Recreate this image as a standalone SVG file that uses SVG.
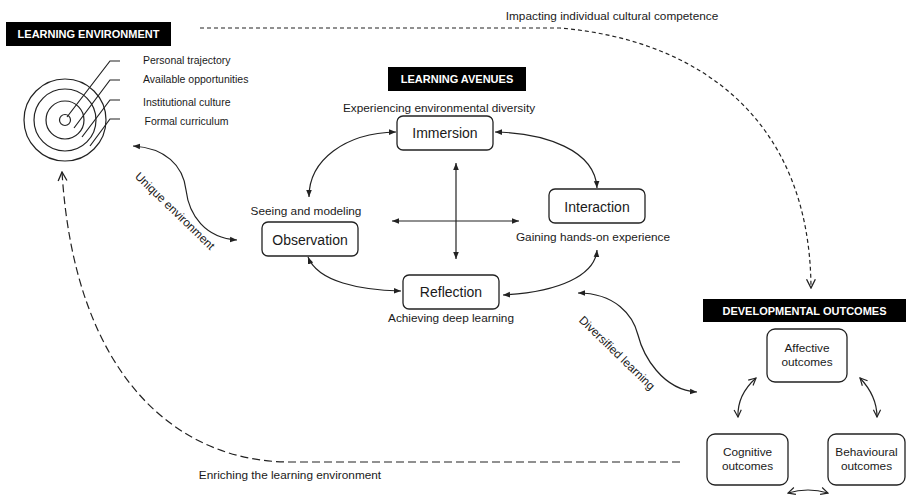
<svg xmlns="http://www.w3.org/2000/svg" width="906" height="496" viewBox="0 0 906 496">
<style>
text{font-family:"Liberation Sans",Arial,sans-serif;fill:#1a1a1a}
.title{font-weight:bold;font-size:11px;fill:#fff}
.tbox{fill:#000}
.node{fill:#fff;stroke:#222;stroke-width:1.3}
.nt{font-size:14px;text-anchor:middle}
.ot{font-size:11.8px;text-anchor:middle}
.lab{font-size:11.8px;text-anchor:middle}
.sm{font-size:10.5px}
.ln{fill:none;stroke:#222;stroke-width:1.2}
.bi{fill:none;stroke:#222;stroke-width:1.2;marker-start:url(#fa);marker-end:url(#fa)}
.obi{fill:none;stroke:#222;stroke-width:1.2;marker-start:url(#oa);marker-end:url(#oa)}
.d1{fill:none;stroke:#222;stroke-width:1.2;stroke-dasharray:4 3;marker-end:url(#va)}
.d2{fill:none;stroke:#222;stroke-width:1.2;stroke-dasharray:8 4;marker-end:url(#va)}
</style>
<defs>
<marker id="fa" viewBox="0 0 10 10" refX="10" refY="5" markerWidth="7" markerHeight="7" markerUnits="userSpaceOnUse" orient="auto-start-reverse">
<path d="M0,1 L10,5 L0,9 z" fill="#222"/>
</marker>
<marker id="oa" viewBox="0 0 10 10" refX="9" refY="5" markerWidth="9" markerHeight="9" markerUnits="userSpaceOnUse" orient="auto-start-reverse">
<path d="M1,1 L9,5 L1,9" fill="none" stroke="#222" stroke-width="1.3"/>
</marker>
<marker id="va" viewBox="0 0 10 10" refX="9" refY="5" markerWidth="11" markerHeight="11" markerUnits="userSpaceOnUse" orient="auto">
<path d="M1,1 L9,5 L1,9" fill="none" stroke="#222" stroke-width="1.2"/>
</marker>
</defs>

<g id="learning-environment">
<rect class="tbox" x="6" y="22" width="165" height="24"/>
<text class="title" x="88.5" y="38" text-anchor="middle">LEARNING ENVIRONMENT</text>
<circle cx="65" cy="120" r="41" class="ln"/>
<circle cx="65" cy="120" r="31" class="ln"/>
<circle cx="65" cy="120" r="19" class="ln"/>
<circle cx="65" cy="120" r="5.5" class="ln"/>
<path class="ln" d="M67,117 L110,61 L120,61"/>
<path class="ln" d="M74,128 L110,80 L120,80"/>
<path class="ln" d="M82,137 L110,100 L120,100"/>
<path class="ln" d="M90,146 L110,119 L120,119"/>
<text class="sm" x="143" y="64">Personal trajectory</text>
<text class="sm" x="143" y="83">Available opportunities</text>
<text class="sm" x="143" y="106">Institutional culture</text>
<text class="sm" x="144.5" y="125">Formal curriculum</text>
</g>

<g id="learning-avenues">
<rect class="tbox" x="388" y="67" width="138" height="24"/>
<text class="title" x="457" y="83" text-anchor="middle">LEARNING AVENUES</text>
</g>

<g id="immersion">
<rect class="node" x="397" y="116" width="96" height="34" rx="6"/>
<text class="nt" x="445" y="138">Immersion</text>
<text class="lab" x="439" y="112">Experiencing environmental diversity</text>
</g>
<g id="interaction">
<rect class="node" x="549" y="189" width="96" height="34" rx="6"/>
<text class="nt" x="597" y="212">Interaction</text>
<text class="lab" x="593" y="241">Gaining hands-on experience</text>
</g>
<g id="observation">
<rect class="node" x="262" y="222" width="96" height="34" rx="6"/>
<text class="nt" x="310" y="245">Observation</text>
<text class="lab" x="306" y="215">Seeing and modeling</text>
</g>
<g id="reflection">
<rect class="node" x="403" y="275" width="96" height="34" rx="6"/>
<text class="nt" x="451" y="297">Reflection</text>
<text class="lab" x="451" y="322">Achieving deep learning</text>
</g>

<g id="developmental-outcomes">
<rect class="tbox" x="703" y="299" width="203" height="23"/>
<text class="title" x="804.5" y="315" text-anchor="middle">DEVELOPMENTAL OUTCOMES</text>
</g>
<g id="affective">
<rect class="node" x="767" y="329" width="80" height="53" rx="8"/>
<text class="ot" x="807" y="352">Affective</text>
<text class="ot" x="807" y="366">outcomes</text>
</g>
<g id="cognitive">
<rect class="node" x="707" y="434" width="81" height="51" rx="8"/>
<text class="ot" x="747.5" y="456">Cognitive</text>
<text class="ot" x="747.5" y="470">outcomes</text>
</g>
<g id="behavioural">
<rect class="node" x="828" y="434" width="77" height="51" rx="8"/>
<text class="ot" x="866.5" y="456">Behavioural</text>
<text class="ot" x="866.5" y="470">outcomes</text>
</g>

<g id="connectors">
<path class="bi" d="M456,163 L456,259"/>
<path class="bi" d="M392,221 L519,221"/>
<path class="bi" d="M309,197 C309,160 345,133 396,132"/>
<path class="bi" d="M495,132 C545,133 595,150 597,188"/>
<path class="bi" d="M308,257 C318,282 360,290 401,291"/>
<path class="bi" d="M503,295 C560,292 595,275 597,250"/>
<path class="bi" d="M133,146 C165,148 183,165 186,190 S205,238 237,240"/>
<path class="bi" d="M578,293 C615,293 633,315 638,335 S662,390 697,392"/>
<path class="obi" d="M756,378 Q737,395 738,417"/>
<path class="obi" d="M860,378 Q877,396 877,417"/>
<path class="obi" d="M788,493 Q808,487 828,493"/>
<path class="d1" d="M200,28 L560,28 C700,40 810,120 811,288"/>
<path class="d2" d="M680,462 L290,462 C180,462 75,380 62,172"/>
<text class="lab" x="612" y="20">Impacting individual cultural competence</text>
<text class="lab" x="290" y="479">Enriching the learning environment</text>
<text class="lab" transform="translate(175,211) rotate(44)" x="0" y="4">Unique environment</text>
<text class="lab" transform="translate(617,353) rotate(44)" x="0" y="4">Diversified learning</text>
</g>
</svg>
